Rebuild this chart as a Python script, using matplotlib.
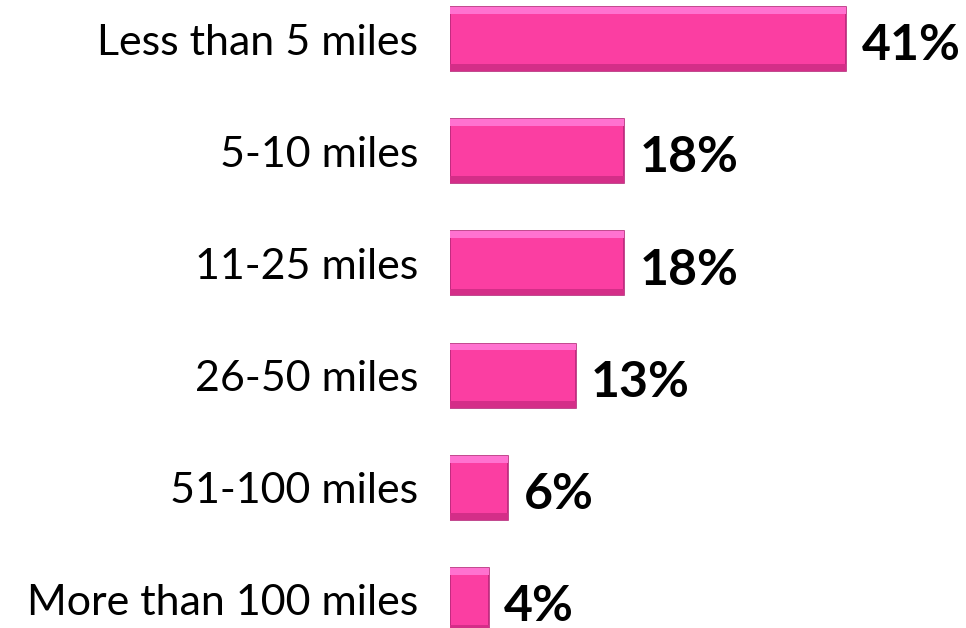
import matplotlib.pyplot as plt
import numpy as np

categories = ['Less than 5 miles', '5-10 miles', '11-25 miles', '26-50 miles',
              '51-100 miles', 'More than 100 miles']
values = [41, 18, 18, 13, 6, 4]

fig = plt.figure(figsize=(9.66, 6.28), dpi=100)
ax = fig.add_axes([450 / 966, 0, 516 / 966, 1])

y = np.arange(len(categories))
h = 0.57

# main bars with a darker rim
ax.barh(y, values, height=h, color='#FB3EA2', edgecolor='#B8287A', linewidth=1.2, zorder=2)
# bevel highlights: light strip on top, shade at the bottom
ax.barh(y - h / 2 + 0.03, values, height=0.06, color='#FF72D0', linewidth=0, zorder=3)
ax.barh(y + h / 2 - 0.03, values, height=0.06, color='#D42E88', linewidth=0, zorder=3)

for yi, v in zip(y, values):
    ax.text(v + 1.6, yi + 0.06, f'{v}%', va='center', ha='left',
            fontsize=36, fontweight='bold', family='Lato', color='black')

ax.set_xlim(0, 53.4)
ax.set_ylim(5.25, -0.348)
ax.set_yticks(y)
ax.set_yticklabels(categories, fontsize=31, family='Lato')
ax.tick_params(axis='y', length=0, pad=23)
ax.set_xticks([])
for s in ax.spines.values():
    s.set_visible(False)

fig.savefig('out.png', dpi=100)
